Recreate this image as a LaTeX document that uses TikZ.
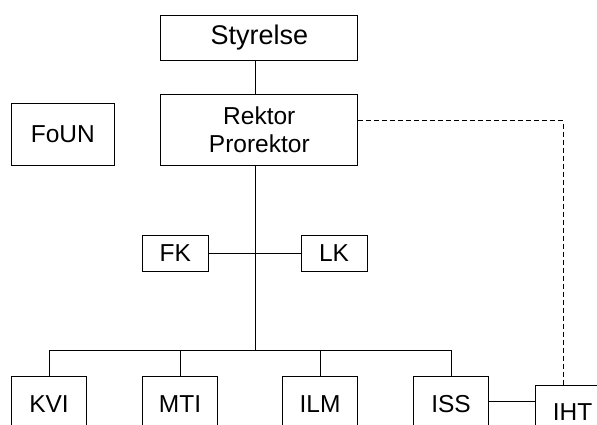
\documentclass[tikz,border=0pt]{standalone}
\usepackage{fontspec}
\setmainfont{Liberation Sans}
\usepackage{tikz}
\usetikzlibrary{positioning}

\begin{document}
\begin{tikzpicture}[x=1pt,y=-1pt,line width=1pt,
	unit/.style={draw,inner sep=0pt,align=center,font=\fontsize{24.5}{28}\selectfont},
	dept/.style={unit,minimum width=75pt,minimum height=55pt}]
	\useasboundingbox (0,0) rectangle (597,425);
	\node[unit,minimum width=196.7pt,minimum height=44.7pt,font=\fontsize{27}{30}\selectfont](styrelse) at (259.3,37.7){Styrelse};
	\node[unit,minimum width=196.7pt,minimum height=70.6pt](rektor) at (259.3,130){Rektor\\Prorektor};
	\node[unit,minimum width=103pt,minimum height=62pt](foun) at (62.8,134.3){FoUN};
	\node[unit,minimum width=66.3pt,minimum height=36pt](fk) at (175.2,253.3){FK};
	\node[unit,minimum width=66pt,minimum height=36pt](lk) at (334,253.3){LK};
	\node[dept](kvi) at (49,404.2){KVI};
	\node[dept](mti) at (180,404.2){MTI};
	\node[dept](ilm) at (320,404.2){ILM};
	\node[dept](iss) at (451,404.2){ISS};
	\node[dept](iht) at (572.5,412.5){IHT};
	\coordinate (axis) at (255,350.5);
	\coordinate (corner) at (563.3,121);
	\draw (styrelse.south -| axis) -- (rektor.north -| axis);
	\draw (rektor.south -| axis) -- (axis);
	\draw (fk.east) -- (lk.west);
	\draw (kvi.north) |- (axis) -| (iss.north);
	\draw (mti.north) -- (mti.north |- axis);
	\draw (ilm.north) -- (ilm.north |- axis);
	\draw ([yshift=2.5pt]iss.east) -- ([yshift=2.5pt]iss.east -| iht.west);
	\draw[dash pattern=on 5pt off 3pt] (rektor.east |- corner) -- (corner) -- (corner |- iht.north);
\end{tikzpicture}
\end{document}
